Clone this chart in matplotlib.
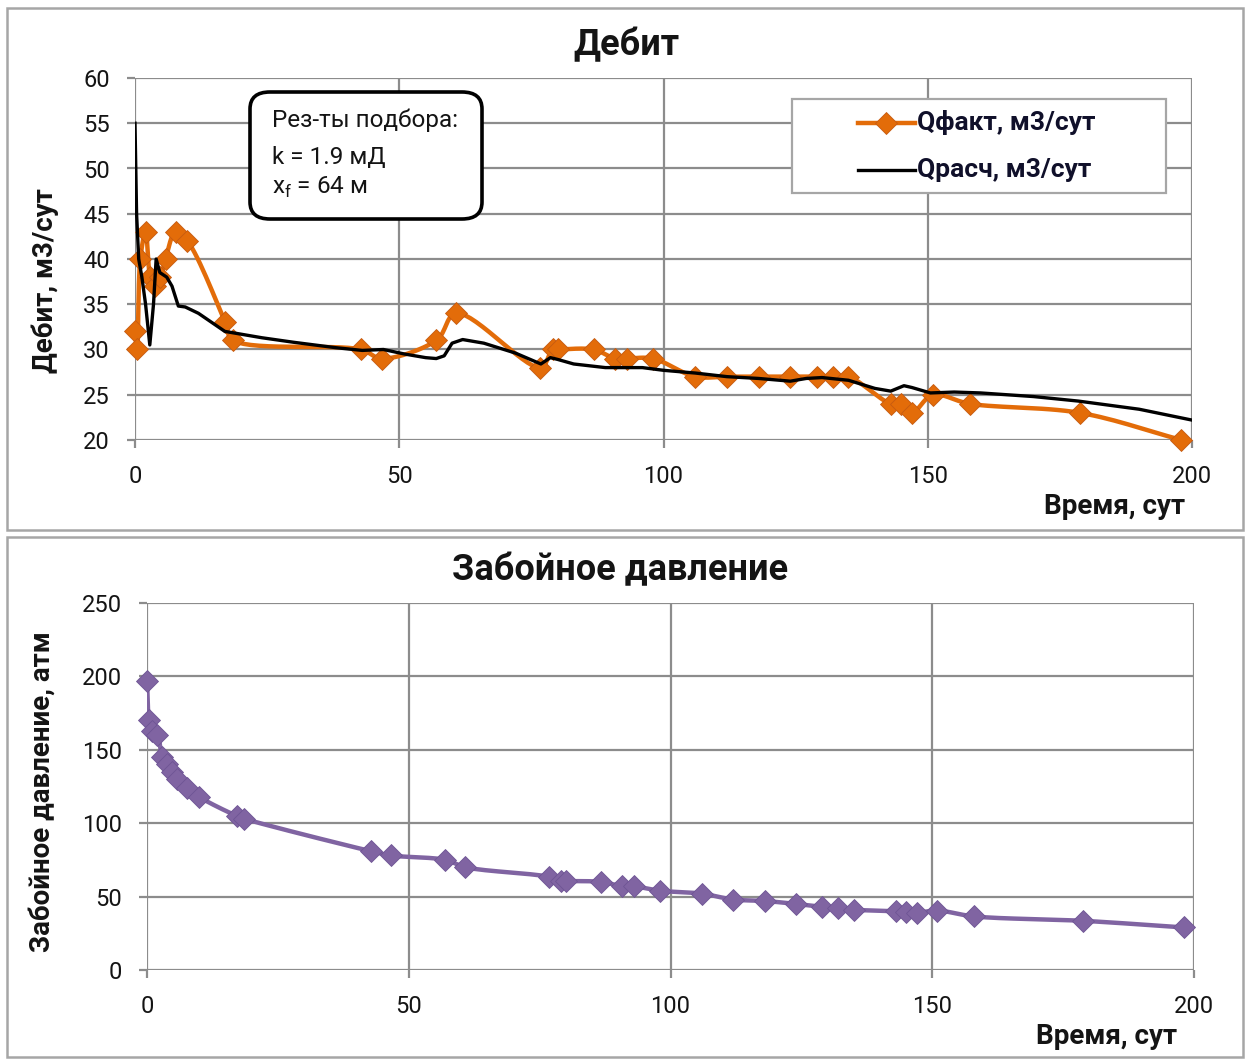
import numpy as np
import matplotlib
matplotlib.use("Agg")
import matplotlib.pyplot as plt
from matplotlib.patches import Rectangle, FancyBboxPatch
from matplotlib.lines import Line2D

plt.rcParams['font.family'] = ['Roboto', 'DejaVu Sans']
plt.rcParams['mathtext.fontset'] = 'custom'
plt.rcParams['mathtext.rm'] = 'Roboto'

# ---- data ----
t_days = [0, 0.4, 1.0, 2.0, 2.9, 3.8, 4.8, 5.8, 7.7, 9.9, 17.1, 18.6,
          42.7, 46.7, 57.0, 60.8, 76.7, 79.0, 80.0, 86.8, 90.8, 93.0, 98.0,
          106.0, 112.0, 118.0, 124.0, 129.0, 132.0, 135.0, 143.0, 145.0, 147.0,
          151.0, 158.0, 178.8, 198.0]
q_fact = [32, 30, 40, 43, 38, 37, 38, 40, 43, 42, 33, 31,
          30, 29, 31, 34, 28, 30, 30, 30, 29, 29, 29,
          27, 27, 27, 27, 27, 27, 27, 24, 24, 23,
          25, 24, 23, 20]
p_bh = [197, 170, 163, 160, 145, 140, 135, 130, 124, 118, 105, 103,
        81, 78, 75, 70, 63.5, 60.5, 60.5, 60, 57, 57, 54,
        52, 48, 47, 45, 43, 42, 41, 40, 39.5, 39,
        40.5, 36.5, 33.5, 29]

t_calc = [0, 0.3, 0.7, 1.3, 2.0, 2.8, 3.5, 4.0, 4.7, 6.0, 7.0, 8.2, 9.5, 12, 17,
          24, 30, 38, 43, 47, 51, 55, 57, 58.5, 60, 62, 66, 72, 76.8, 78.6, 80,
          83, 89, 96, 100, 106, 112, 118, 124, 127, 130, 135, 140, 143, 145.5,
          147, 150.5, 155, 160, 170, 178.5, 190, 200]
q_calc = [55, 45, 40, 38, 35, 30.5, 35, 40, 38.5, 38, 37, 34.8, 34.7, 34, 32,
          31.3, 30.8, 30.2, 29.9, 30.0, 29.5, 29.1, 29.0, 29.3, 30.7, 31.1, 30.7,
          29.6, 28.4, 29.1, 28.9, 28.4, 28.0, 28.0, 27.7, 27.4, 27.0, 26.8, 26.5,
          26.8, 26.9, 26.6, 25.7, 25.4, 26.0, 25.8, 25.2, 25.3, 25.2, 24.8, 24.3,
          23.4, 22.2]

x_ticks = [0, 50, 100, 150, 200]
q_ticks = [20, 25, 30, 35, 40, 45, 50, 55, 60]
p_ticks = [0, 50, 100, 150, 200, 250]

ORANGE = '#E36C09'
PURPLE = '#8064A2'
GRID = '#8C8C8C'
TEXT = '#141414'


def smooth(x, y, xr, yr, n=16):
    """Centripetal Catmull-Rom curve through the points (scaled to axis ranges)."""
    x = np.asarray(x, float)
    y = np.asarray(y, float)
    px = (x - xr[0]) / (xr[1] - xr[0])
    py = (y - yr[0]) / (yr[1] - yr[0]) * 0.42
    P = np.column_stack([px, py])
    P = np.vstack([2 * P[0] - P[1], P, 2 * P[-1] - P[-2]])
    out = []
    for i in range(1, len(P) - 2):
        p0, p1, p2, p3 = P[i - 1], P[i], P[i + 1], P[i + 2]

        def tj(ti, a, b):
            d = np.hypot(*(b - a))
            return ti + max(d, 1e-9) ** 0.5
        t0 = 0.0
        t1 = tj(t0, p0, p1)
        t2 = tj(t1, p1, p2)
        t3 = tj(t2, p2, p3)
        tt = np.linspace(t1, t2, n)[:, None]
        A1 = (t1 - tt) / (t1 - t0) * p0 + (tt - t0) / (t1 - t0) * p1
        A2 = (t2 - tt) / (t2 - t1) * p1 + (tt - t1) / (t2 - t1) * p2
        A3 = (t3 - tt) / (t3 - t2) * p2 + (tt - t2) / (t3 - t2) * p3
        B1 = (t2 - tt) / (t2 - t0) * A1 + (tt - t0) / (t2 - t0) * A2
        B2 = (t3 - tt) / (t3 - t1) * A2 + (tt - t1) / (t3 - t1) * A3
        C = (t2 - tt) / (t2 - t1) * B1 + (tt - t1) / (t2 - t1) * B2
        out.append(C if i == 1 else C[1:])
    C = np.vstack(out)
    sx = C[:, 0] * (xr[1] - xr[0]) + xr[0]
    sy = C[:, 1] / 0.42 * (yr[1] - yr[0]) + yr[0]
    return sx, sy


def style_axes(ax, yticks, ylim):
    ax.set_xlim(0, 200)
    ax.set_ylim(*ylim)
    ax.set_xticks(x_ticks)
    ax.set_yticks(yticks)
    ax.grid(True, color=GRID, linewidth=1.6)
    ax.set_axisbelow(True)
    for s in ax.spines.values():
        s.set_visible(False)
    ax.tick_params(axis='both', direction='out', length=6, width=1.6,
                   color=GRID, labelsize=17, labelcolor=TEXT)
    ax.tick_params(axis='x', pad=12)
    ax.tick_params(axis='y', pad=12)


fig = plt.figure(figsize=(12.49, 10.59), dpi=100)
W, H = 1249, 1059


def fx(px):
    return px / W


def fy(py):
    return 1 - py / H


# chart frames
for (x0, y0, x1, y1) in [(7, 8, 1243, 530), (7, 537, 1243, 1057)]:
    fig.add_artist(Rectangle((fx(x0), fy(y1)), (x1 - x0) / W, (y1 - y0) / H,
                             transform=fig.transFigure, fill=False,
                             edgecolor='#A6A6A6', linewidth=1.8))

# ---- flow rate ----
ax1 = fig.add_axes([fx(135), fy(440), (1192 - 135) / W, (440 - 78) / H])
style_axes(ax1, q_ticks, (20, 60))
sx, sy = smooth(t_days, q_fact, (0, 200), (20, 60))
ax1.plot(sx, sy, color=ORANGE, linewidth=3.2, solid_joinstyle='round', clip_on=False, zorder=3)
ax1.plot(t_days, q_fact, linestyle='none', marker='D', markersize=11,
         color=ORANGE, markeredgecolor='#C55A11', markeredgewidth=0.6, clip_on=False, zorder=4)
ax1.plot(t_calc, q_calc, color='black', linewidth=2.4, solid_joinstyle='round', zorder=5)

fig.text(fx(626), fy(45), 'Дебит', ha='center', va='center',
         fontsize=26, fontweight='bold', color=TEXT)
fig.text(fx(1185), fy(507), 'Время, сут', ha='right', va='center',
         fontsize=20, fontweight='bold', color=TEXT)
fig.text(fx(45), fy(281), 'Дебит, м3/сут', ha='center', va='center',
         rotation=90, fontsize=20, fontweight='bold', color=TEXT)

# legend
fig.add_artist(Rectangle((fx(792), fy(193)), (1166 - 792) / W, (193 - 99) / H,
                         transform=fig.transFigure, facecolor='white',
                         edgecolor='#A6A6A6', linewidth=1.6, zorder=10))
fig.add_artist(Line2D([fx(858), fx(915)], [fy(123), fy(123)], transform=fig.transFigure,
                      color=ORANGE, linewidth=3.2, zorder=11))
fig.add_artist(Line2D([fx(886)], [fy(123)], transform=fig.transFigure, linestyle='none',
                      marker='D', markersize=11, color=ORANGE,
                      markeredgecolor='#C55A11', markeredgewidth=0.6, zorder=12))
fig.add_artist(Line2D([fx(858), fx(915)], [fy(170), fy(170)], transform=fig.transFigure,
                      color='black', linewidth=2.4, zorder=11))
fig.text(fx(917), fy(123), 'Qфакт, м3/сут', ha='left', va='center', fontsize=19,
         fontweight='bold', color='#10102A', zorder=12)
fig.text(fx(917), fy(170), 'Qрасч, м3/сут', ha='left', va='center', fontsize=19,
         fontweight='bold', color='#10102A', zorder=12)

# fit summary box
box = FancyBboxPatch((fx(250), fy(219)), (482 - 250) / W, (219 - 92) / H,
                     boxstyle='round,pad=0,rounding_size=0.016',
                     transform=fig.transFigure, facecolor='white',
                     edgecolor='black', linewidth=2.6, zorder=10)
fig.add_artist(box)
for ytxt, s in [(120, 'Рез-ты подбора:'), (157, 'k = 1.9 мД'),
                (187, r'x$_\mathregular{f}$ = 64 м')]:
    fig.text(fx(272), fy(ytxt), s, ha='left', va='center', fontsize=17.5,
             color=TEXT, zorder=11)

# ---- bottomhole pressure ----
ax2 = fig.add_axes([fx(147), fy(970), (1194 - 147) / W, (970 - 603) / H])
style_axes(ax2, p_ticks, (0, 250))
sx2, sy2 = smooth(t_days, p_bh, (0, 200), (0, 250))
ax2.plot(sx2, sy2, color=PURPLE, linewidth=3.2, solid_joinstyle='round', zorder=3)
ax2.plot(t_days, p_bh, linestyle='none', marker='D', markersize=11,
         color=PURPLE, markeredgecolor='#6E5494', markeredgewidth=0.6, clip_on=False, zorder=4)

fig.text(fx(620), fy(570), 'Забойное давление', ha='center', va='center',
         fontsize=26, fontweight='bold', color=TEXT)
fig.text(fx(1177), fy(1037), 'Время, сут', ha='right', va='center',
         fontsize=20, fontweight='bold', color=TEXT)
fig.text(fx(42), fy(792), 'Забойное давление, атм', ha='center', va='center',
         rotation=90, fontsize=20, fontweight='bold', color=TEXT)

fig.savefig('out.png', dpi=100, facecolor='white')
